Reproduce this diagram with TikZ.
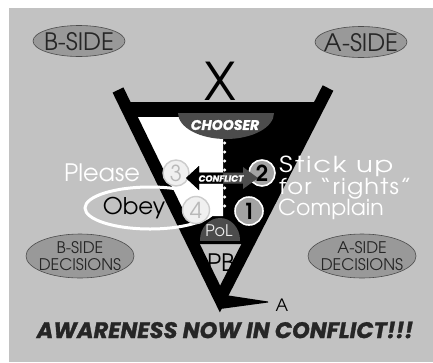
\documentclass[tikz,border=0pt]{standalone}
\usepackage{fontspec}
\setmainfont{texgyreadventor}[Extension=.otf,UprightFont=*-regular,BoldFont=*-bold,ItalicFont=*-italic,BoldItalicFont=*-bolditalic]
\newfontfamily\heavy{Poppins}[FakeBold=1.2]
\usetikzlibrary{shapes.geometric}
\definecolor{bg}{gray}{0.76}
\definecolor{pill}{gray}{0.6}
\definecolor{darkg}{gray}{0.3}
\definecolor{midg}{gray}{0.64}
\newcommand\fsz[1]{\fontsize{#1}{#1}\selectfont}
\newcommand\arrowshape{(186,178) -- (199,166) -- (199,172.5) -- (243,172.5) -- (243,167) -- (258,178) -- (243,189) -- (243,183.5) -- (199,183.5) -- (199,190) -- cycle}
\tikzset{
  pillshape/.style={ellipse, fill=pill, draw=black!70, line width=0.6pt, inner sep=0pt},
  lbl/.style={text=black!85, inner sep=0pt},
  hollowc/.style={circle, fill=gray!12, draw=gray!40, line width=1.4pt, text=gray!55, font=\fsz{22}, inner sep=0pt, minimum size=26pt},
  solidc/.style={circle, fill=midg, draw=white, line width=1.6pt, text=black, font=\bfseries\fsz{22}, inner sep=0pt, minimum size=26pt},
  whitelbl/.style={text=white, inner sep=0pt},
}
\begin{document}
\begin{tikzpicture}[x=1pt,y=-1pt]
\useasboundingbox (0,0) rectangle (433,362);
\fill[white] (0,0) rectangle (433,362);
\fill[bg] (9,8) rectangle (433,362);

% corner ellipses
\node[pillshape, minimum width=92pt, minimum height=31pt] (bsideshape) at (79,41) {};
\node[lbl, font=\fsz{24}] (bside) at (79,42) {B-SIDE};
\node[pillshape, minimum width=92pt, minimum height=31pt] (asideshape) at (361,42) {};
\node[lbl, font=\fsz{24}] (aside) at (361,43) {A-SIDE};
\node[pillshape, minimum width=108pt, minimum height=44pt] (bdecshape) at (80,256) {};
\node[lbl, align=center, font=\fontsize{16}{17}\selectfont] (bdec) at (80,256) {B-SIDE\\DECISIONS};
\node[pillshape, minimum width=108pt, minimum height=44pt] (adecshape) at (362,256) {};
\node[lbl, align=center, font=\fontsize{16}{17}\selectfont] (adec) at (362,256) {A-SIDE\\DECISIONS};

% X
\node[text=black, inner sep=0pt, font=\fsz{52}] (xlbl) at (220,81) {X};

% funnel body
\fill[black] (123.8,102) -- (320.9,102) -- (247.8,244) -- (193.0,244) -- cycle;
\fill[white] (131.1,117) -- (223,117) -- (223,216) -- (179.4,216) -- cycle;
\foreach \yy in {143,152,...,214} \fill[white] (224.6,\yy) circle (1.7);

% chooser banner
\begin{scope}
  \clip (170,113) rectangle (290,150);
  \fill[darkg] (226,113) ellipse [x radius=48, y radius=26];
\end{scope}
\node[text=white, inner sep=0pt, font=\heavy\bfseries\itshape\fsz{14}] (chooser) at (225,125) {CHOOSER};

% PoL dome
\begin{scope}
  \clip (190,200) rectangle (252,240);
  \fill[darkg] (220,240) ellipse [x radius=20, y radius=22];
\end{scope}
\node[text=gray!15, inner sep=0pt, font=\fsz{16}] (pol) at (219,231) {PoL};

% arms and A pointer
\draw[line width=12pt, line join=miter] (118,90) -- (220,299) -- (328,88);
\fill[black] (222,294.5) -- (268,301.5) -- (268,302.5) -- (220,309) -- cycle;
\node[lbl, text=black, font=\fsz{17}] (alabel) at (282,305) {A};
\node[lbl, text=black, font=\fsz{24}] (pb) at (221,263) {PB};

% Obey loop
\draw[white, line width=3pt] (150,208) ellipse [x radius=65, y radius=21];

% numbered circles
\node[hollowc] (c3) at (176,173) {3};
\node[hollowc, minimum size=27pt] (c4) at (196,210) {4};
\node[solidc] (c2) at (262,173) {2};
\node[solidc, minimum size=28pt] (c1) at (249,211) {1};

% conflict arrow
\fill[darkg] \arrowshape;
\begin{scope}
  \clip (150,150) rectangle (223,200);
  \fill[black] \arrowshape;
\end{scope}
\node[text=white, inner sep=0pt, font=\heavy\bfseries\itshape\fsz{9}] (conflict) at (221,178.5) {CONFLICT};

% side labels
\node[whitelbl, font=\fsz{24}] (please) at (102,173) {Please};
\node[whitelbl, anchor=west, align=left, font=\fontsize{22}{18}\selectfont] (stick) at (279,177.5) {\addfontfeatures{FakeStretch=1.25,LetterSpace=8}Stick up\\\addfontfeatures{FakeStretch=1.1,LetterSpace=5}for ``rights''};
\node[whitelbl, anchor=west, font=\fsz{22}] (complain) at (278,209) {Complain};
\node[lbl, text=black, font=\fsz{23}] (obey) at (134,208) {Obey};

% title
\node[text=black!85, inner sep=0pt, font=\heavy\bfseries\itshape\fsz{22.5}] (title) at (225,330) {AWARENESS NOW IN CONFLICT!!!};
\end{tikzpicture}
\end{document}
